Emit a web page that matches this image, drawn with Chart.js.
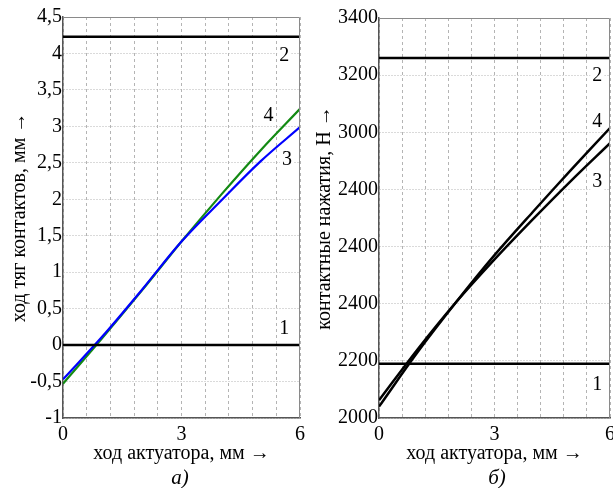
<!DOCTYPE html>
<html>
<head>
<meta charset="utf-8">
<script src="https://cdn.jsdelivr.net/npm/chart.js@4/dist/chart.umd.min.js"></script>
<style>
  html, body { margin: 0; padding: 0; width: 613px; height: 488px; overflow: hidden; background: #fff; }
  .box { position: absolute; top: 0; }
  .cap { position: absolute; font-family: 'Liberation Serif', serif; font-style: italic; font-size: 21px; color: #000; transform: translateX(-50%); }
</style>
</head>
<body>
<div class="box" style="left:0;width:310px;height:488px"><canvas id="chart-a"></canvas></div>
<div class="box" style="left:300px;width:320px;height:488px"><canvas id="chart-b"></canvas></div>
<div class="cap" style="left:180px;top:465px">а)</div>
<div class="cap" style="left:497px;top:465px">б)</div>
<script>
// x positions, mm
const xs = [0, 1, 2, 3, 4, 5, 6];

// panel a: contact rod travel, mm
const aLine1 = [0, 0];
const aLine2 = [4.23, 4.23];
const aCurve3 = [-0.47, 0.12, 0.76, 1.42, 1.98, 2.52, 2.99];
const aCurve4 = [-0.53, 0.10, 0.75, 1.42, 2.06, 2.67, 3.24];
const aMarks = [['1', 5.6, 0.22], ['2', 5.6, 3.97], ['3', 5.67, 2.54], ['4', 5.2, 3.14]];

// panel b: contact pressure, N
const bLine1 = [2190, 2190];
const bLine2 = [3260, 3260];
const bCurve3 = [2062, 2240, 2405, 2555, 2696, 2832, 2962];
const bCurve4 = [2040, 2230, 2405, 2570, 2722, 2870, 3015];
const bTickLabels = ['2000', '2200', '2400', '2400', '2400', '3000', '3200', '3400'];
const bMarks = [['1', 5.67, 2116], ['2', 5.67, 3198], ['3', 5.67, 2826], ['4', 5.67, 3036]];

Chart.defaults.font.family = "'Liberation Serif', 'DejaVu Serif', serif";
Chart.defaults.font.size = 20;
Chart.defaults.color = '#000';

const pts = (ys) => ys.map((y, i) => ({ x: xs[i], y }));
const flat = (ys) => [{ x: 0, y: ys[0] }, { x: 6, y: ys[1] }];

const marksPlugin = {
  id: 'marks',
  afterDatasetsDraw(chart, args, opts) {
    const { ctx, chartArea, scales } = chart;
    ctx.save();
    // light frame top / right
    ctx.strokeStyle = '#8a8a8a';
    ctx.lineWidth = 1;
    ctx.beginPath();
    ctx.moveTo(chartArea.left, chartArea.top + 0.5);
    ctx.lineTo(chartArea.right - 0.5, chartArea.top + 0.5);
    ctx.lineTo(chartArea.right - 0.5, chartArea.bottom);
    ctx.stroke();
    ctx.font = "20px 'Liberation Serif'";
    ctx.textAlign = 'center';
    ctx.textBaseline = 'middle';
    opts.items.forEach(([t, x, y]) => {
      const px = scales.x.getPixelForValue(x);
      const py = scales.y.getPixelForValue(y);
      const w = ctx.measureText(t).width;
      ctx.fillStyle = '#fff';
      ctx.fillRect(px - w / 2 - 2, py - 9, w + 4, 18);
      ctx.fillStyle = '#000';
      ctx.fillText(t, px, py);
    });
    ctx.restore();
  }
};

function lineSet(data, color, width) {
  return { data, borderColor: color, borderWidth: width, pointRadius: 0, fill: false, tension: 0.35 };
}

function xScale() {
  return {
    type: 'linear', min: 0, max: 6,
    ticks: {
      stepSize: 0.6, padding: 5, maxRotation: 0, autoSkip: false,
      callback: (v) => {
        for (const k of [0, 3, 6]) if (Math.abs(v - k) < 1e-6) return String(k);
        return '';
      }
    },
    grid: { color: '#b4b4b4', lineWidth: 1, drawTicks: false },
    border: { color: '#555', width: 1.5, dash: [3, 3] },
    title: { display: true, text: 'ход актуатора, мм →', padding: { top: 0, bottom: 22 } },
    afterFit: (s) => { s.height = 70; }
  };
}

new Chart(document.getElementById('chart-a'), {
  type: 'line',
  data: {
    datasets: [
      lineSet(flat(aLine1), '#000', 2.5),
      lineSet(flat(aLine2), '#000', 2.5),
      lineSet(pts(aCurve3), '#0000ff', 2.2),
      lineSet(pts(aCurve4), '#138a13', 2.2)
    ]
  },
  options: {
    responsive: true, maintainAspectRatio: false, animation: false,
    layout: { padding: { top: 17, right: 9, left: 0, bottom: 0 } },
    plugins: { legend: { display: false }, tooltip: { enabled: false }, marks: { items: aMarks } },
    scales: {
      x: xScale(),
      y: {
        type: 'linear', min: -1, max: 4.5,
        ticks: { stepSize: 0.5, padding: 1, callback: (v) => String(v).replace('.', ',') },
        grid: { color: '#b4b4b4', lineWidth: 1, drawTicks: false },
        border: { color: '#555', width: 1.5, dash: [1, 2] },
        title: { display: true, text: 'ход тяг контактов, мм →', padding: { top: 8, bottom: 0 } },
        afterFit: (s) => { s.width = 63; }
      }
    }
  },
  plugins: [marksPlugin]
});

new Chart(document.getElementById('chart-b'), {
  type: 'line',
  data: {
    datasets: [
      lineSet(flat(bLine1), '#000', 2.5),
      lineSet(flat(bLine2), '#000', 2.5),
      lineSet(pts(bCurve3), '#000', 2.5),
      lineSet(pts(bCurve4), '#000', 2.5)
    ]
  },
  options: {
    responsive: true, maintainAspectRatio: false, animation: false,
    layout: { padding: { top: 18, right: 5, left: 0, bottom: 0 } },
    plugins: { legend: { display: false }, tooltip: { enabled: false }, marks: { items: bMarks } },
    scales: {
      x: xScale(),
      y: {
        type: 'linear', min: 2000, max: 3400,
        ticks: { stepSize: 200, padding: 1, callback: (v, i) => bTickLabels[i] },
        grid: { color: '#b4b4b4', lineWidth: 1, drawTicks: false },
        border: { color: '#555', width: 1.5, dash: [1, 2] },
        title: { display: true, text: 'контактные нажатия, Н →', padding: { top: 13, bottom: 0 } },
        afterFit: (s) => { s.width = 79; }
      }
    }
  },
  plugins: [marksPlugin]
});
</script>
</body>
</html>
